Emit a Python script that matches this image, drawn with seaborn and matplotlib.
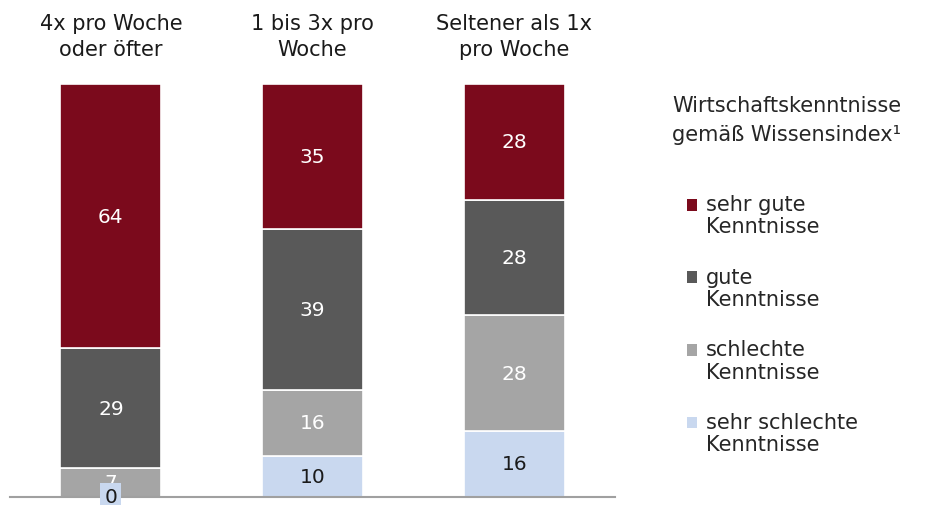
import pandas as pd
import numpy as np
import seaborn as sns
import matplotlib.pyplot as plt

# data (shares in %)
categories = ["4x pro Woche\noder öfter", "1 bis 3x pro\nWoche", "Seltener als 1x\npro Woche"]
levels = ["sehr gute\nKenntnisse", "gute\nKenntnisse", "schlechte\nKenntnisse", "sehr schlechte\nKenntnisse"]
sehr_gut = [64, 35, 28]
gut = [29, 39, 28]
schlecht = [7, 16, 28]
sehr_schlecht = [0, 10, 16]
legend_title = "Wirtschaftskenntnisse\ngemäß Wissensindex¹"

colors = ["#7B0A1C", "#595959", "#A5A5A5", "#C9D8EF"]
text_colors = ["white", "white", "white", "#1A1A1A"]

values = [sehr_gut, gut, schlecht, sehr_schlecht]
rows = []
for lev, vals in zip(levels, values):
    for cat, v in zip(categories, vals):
        rows.append({"Kategorie": cat, "Kenntnis": lev, "Wert": v})
df = pd.DataFrame(rows)

sns.set_style("white")
plt.rcParams['font.family'] = ['DejaVu Sans']

fig = plt.figure(figsize=(9.26, 5.06), dpi=100)
ax = fig.add_axes([10/926, 8/506, 605/926, 413/506])

sns.histplot(data=df, x="Kategorie", weights="Wert", hue="Kenntnis", hue_order=levels,
             palette=colors, multiple="stack", discrete=True, shrink=0.5,
             edgecolor="white", linewidth=1.2, alpha=1, ax=ax)

ax.set_xlim(-0.5, 2.5)
ax.set_ylim(0, 100)
ax.set_xlabel("")
ax.set_ylabel("")
ax.set_yticks([])
ax.xaxis.tick_top()
ax.set_xticks(range(len(categories)))
ax.set_xticklabels(categories, fontsize=15, color="#1A1A1A")
for t in ax.get_xticklabels():
    t.set_linespacing(1.4)
ax.tick_params(axis="x", length=0, pad=18)
for s in ["left", "right", "top"]:
    ax.spines[s].set_visible(False)
ax.spines["bottom"].set_color("#A0A0A0")
ax.spines["bottom"].set_linewidth(1.5)

# value labels in the middle of each segment
n_lev = len(levels)
for i in range(len(categories)):
    bottom = 0
    for j in range(n_lev - 1, -1, -1):
        v = values[j][i]
        bbox = None
        if j == n_lev - 1:
            bbox = dict(boxstyle="square,pad=0.2", fc=colors[j], ec="none")
        ax.text(i, bottom + v / 2, str(v), ha="center", va="center", fontsize=14.5,
                color=text_colors[j], bbox=bbox, clip_on=False, zorder=5 + (j == n_lev - 1))
        bottom += v

fig.text(672/926, 1 - 96/506, legend_title, fontsize=15, color="#262626",
         ha="left", va="top", linespacing=1.55)

sns.move_legend(ax, "upper left", bbox_to_anchor=(687/926, 1 - 195/506),
                bbox_transform=fig.transFigure, title=None, frameon=False,
                fontsize=15, handlelength=0.5, handleheight=0.5, handletextpad=0.4,
                labelspacing=1.45, borderpad=0, borderaxespad=0)
leg = ax.get_legend()
for t in leg.get_texts():
    t.set_color("#262626")
    t.set_linespacing(1.15)
# put the small squares next to the first line of each label
for h in leg.legend_handles:
    h.set_linewidth(0)
    h.set_y(h.get_y() + 8)

fig.savefig("out.png", dpi=100)
